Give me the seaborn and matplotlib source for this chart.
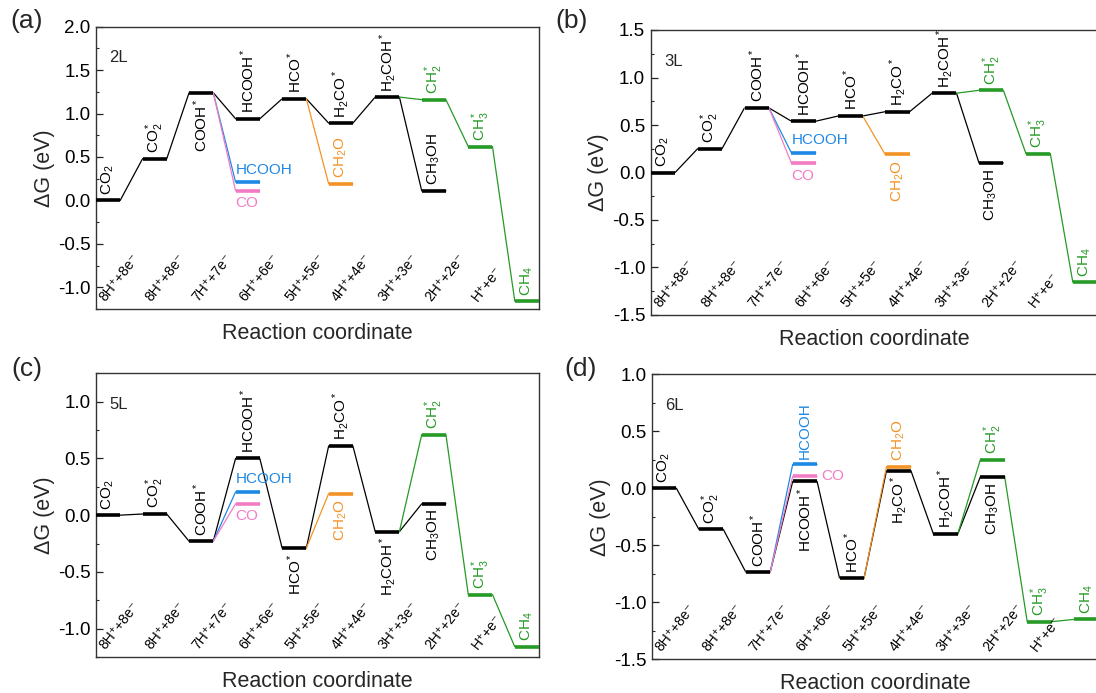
import matplotlib
matplotlib.use('Agg')
import matplotlib.pyplot as plt
from matplotlib.ticker import MultipleLocator, FormatStrFormatter
import seaborn as sns

sns.set_theme(style='white')
plt.rcParams['font.family'] = ['Liberation Sans', 'DejaVu Sans']
plt.rcParams['mathtext.fontset'] = 'custom'
plt.rcParams['mathtext.rm'] = 'Liberation Sans'
plt.rcParams['mathtext.it'] = 'Liberation Sans:italic'
plt.rcParams['mathtext.default'] = 'regular'
plt.rcParams['axes.unicode_minus'] = False

# --- data -------------------------------------------------------------
state_labels = [r'CO$_2$', r'CO$_2^*$', r'COOH$^*$', r'HCOOH$^*$', r'HCO$^*$',
                r'H$_2$CO$^*$', r'H$_2$COH$^*$', r'CH$_2^*$', r'CH$_3^*$', r'CH$_4$']
step_labels = ['8H\u207a+8e\u207b', '8H\u207a+8e\u207b', '7H\u207a+7e\u207b', '6H\u207a+6e\u207b',
               '5H\u207a+5e\u207b', '4H\u207a+4e\u207b', '3H\u207a+3e\u207b', '2H\u207a+2e\u207b',
               'H\u207a+e\u207b']
layers = ['2L', '3L', '5L', '6L']
tags = ['(a)', '(b)', '(c)', '(d)']

# free energy of each intermediate (eV), CO2 -> CH4 pathway
dG_2L = [0.0, 0.48, 1.24, 0.94, 1.17, 0.89, 1.19, 1.16, 0.62, -1.16]
dG_3L = [0.0, 0.25, 0.68, 0.54, 0.595, 0.64, 0.835, 0.865, 0.20, -1.155]
dG_5L = [0.0, 0.01, -0.23, 0.50, -0.29, 0.61, -0.145, 0.71, -0.70, -1.16]
dG_6L = [0.0, -0.36, -0.735, 0.06, -0.79, 0.155, -0.40, 0.25, -1.17, -1.15]
dG_all = [dG_2L, dG_3L, dG_5L, dG_6L]

# side products
hcooh = [0.21, 0.207, 0.205, 0.21]
co = [0.11, 0.10, 0.10, 0.105]
ch2o = [0.19, 0.19, 0.19, 0.19]
ch3oh = [0.11, 0.10, 0.10, 0.10]

# where the labels go: a = above level, b = below
place = [['a', 'a', 'b', 'a', 'a', 'a', 'a', 'a', 'a', 'a'],
         ['a'] * 10,
         ['a', 'a', 'a', 'a', 'b', 'a', 'b', 'a', 'a', 'a'],
         ['a', 'a', 'a', 'b', 'a', 'b', 'a', 'a', 'a', 'a']]
ch2o_place = ['a', 'b', 'b', 'a']
ch3oh_place = ['a', 'b', 'b', 'b']

ylims = [(-1.25, 2.0), (-1.5, 1.5), (-1.25, 1.25), (-1.5, 1.0)]

BLUE = '#1e88e5'
PINK = '#f27cc4'
ORANGE = '#f39325'
GREEN = '#259a25'
BLACK = 'black'
W = 0.52

fig = plt.figure(figsize=(10.96, 6.93), dpi=100)
rects = [[96 / 1096, 1 - 309 / 693, 443 / 1096, 282.3 / 693],
         [650.7 / 1096, 1 - 315 / 693, 446.5 / 1096, 285 / 693],
         [96 / 1096, 1 - 657 / 693, 443 / 1096, 283.7 / 693],
         [652 / 1096, 1 - 659.3 / 693, 446.5 / 1096, 285 / 693]]
tag_xy = [(27, 21), (572, 21), (27, 369), (581, 369)]


def path(ax, pos, vals, color):
    xs, ys = [], []
    for p, v in zip(pos, vals):
        xs += [p, p + W]
        ys += [v, v]
    sns.lineplot(x=xs, y=ys, ax=ax, color=color, lw=0.9, sort=False, estimator=None)


def levels(ax, pos, vals, color):
    ax.hlines(vals, pos, [p + W for p in pos], color=color, lw=2.6, zorder=3)


def vlabel(ax, p, v, s, where, color):
    up = where == 'a'
    ax.annotate(s, (p + W / 2, v), xytext=(0, 4 if up else -4), textcoords='offset points',
                rotation=90, ha='center', va='bottom' if up else 'top',
                color=color, fontsize=11)


for k in range(4):
    ax = fig.add_axes(rects[k])
    g = dG_all[k]

    # thin connecting lines
    path(ax, list(range(7)) + [7], g[:7] + [ch3oh[k]], BLACK)
    if k == 3:
        path(ax, [6, 7], [g[6], g[7]], GREEN)
        path(ax, [7, 8, 9], [ch3oh[k], g[8], g[9]], GREEN)
    else:
        path(ax, [6, 7, 8, 9], g[6:], GREEN)
    path(ax, [2, 3], [g[2], hcooh[k]], BLUE)
    path(ax, [2, 3], [g[2], co[k]], PINK)
    path(ax, [4, 5], [g[4], ch2o[k]], ORANGE)

    # thick energy levels
    levels(ax, list(range(7)) + [7], g[:7] + [ch3oh[k]], BLACK)
    levels(ax, [7, 8, 9], g[7:], GREEN)
    levels(ax, [3], [hcooh[k]], BLUE)
    levels(ax, [3], [co[k]], PINK)
    levels(ax, [5], [ch2o[k]], ORANGE)

    # species labels
    for i in range(10):
        vlabel(ax, i, g[i], state_labels[i], place[k][i], GREEN if i >= 7 else BLACK)
    vlabel(ax, 5, ch2o[k], r'CH$_2$O', ch2o_place[k], ORANGE)
    vlabel(ax, 7, ch3oh[k], r'CH$_3$OH', ch3oh_place[k], BLACK)
    if k == 3:
        vlabel(ax, 3, hcooh[k], 'HCOOH', 'a', BLUE)
        ax.annotate('CO', (3 + W, co[k]), xytext=(3, 0), textcoords='offset points',
                    ha='left', va='center', color=PINK, fontsize=11)
    else:
        ax.annotate('HCOOH', (3, hcooh[k]), xytext=(0, 4), textcoords='offset points',
                    ha='left', va='bottom', color=BLUE, fontsize=11)
        ax.annotate('CO', (3, co[k]), xytext=(0, -4), textcoords='offset points',
                    ha='left', va='top', color=PINK, fontsize=11)

    # reaction step labels along the bottom
    for i, s in enumerate(step_labels):
        ax.text(i + 0.2, 0.025, s, transform=ax.get_xaxis_transform(), rotation=52,
                rotation_mode='anchor', ha='left', va='baseline', fontsize=10, color=BLACK)

    ax.text(0.03, 0.89, layers[k], transform=ax.transAxes, ha='left', va='center', fontsize=12)

    ax.set_xlim(0, 9 + W)
    ax.set_ylim(*ylims[k])
    ax.yaxis.set_major_locator(MultipleLocator(0.5))
    ax.yaxis.set_minor_locator(MultipleLocator(0.25))
    ax.yaxis.set_major_formatter(FormatStrFormatter('%.1f'))
    ax.set_xticks([])
    ax.tick_params(axis='y', which='major', direction='in', length=5, width=0.9,
                   left=True, right=False, labelsize=13.5, pad=4, colors='#222222')
    ax.tick_params(axis='y', which='minor', direction='in', length=2.5, width=0.8,
                   left=True, right=False)
    ax.tick_params(axis='y', labelcolor='black')
    for sp in ax.spines.values():
        sp.set_color('#333333')
        sp.set_linewidth(1.0)
        sp.set_visible(True)
    ax.set_ylabel(u'\u0394G (eV)', fontsize=15.5)
    ax.yaxis.set_label_coords(-41 / 443, 0.5)
    ax.set_xlabel('Reaction coordinate', fontsize=15.5, labelpad=10)

    fig.text(tag_xy[k][0] / 1096, 1 - tag_xy[k][1] / 693, tags[k], ha='center', va='center',
             fontsize=19)

fig.savefig('out.png', dpi=100)
